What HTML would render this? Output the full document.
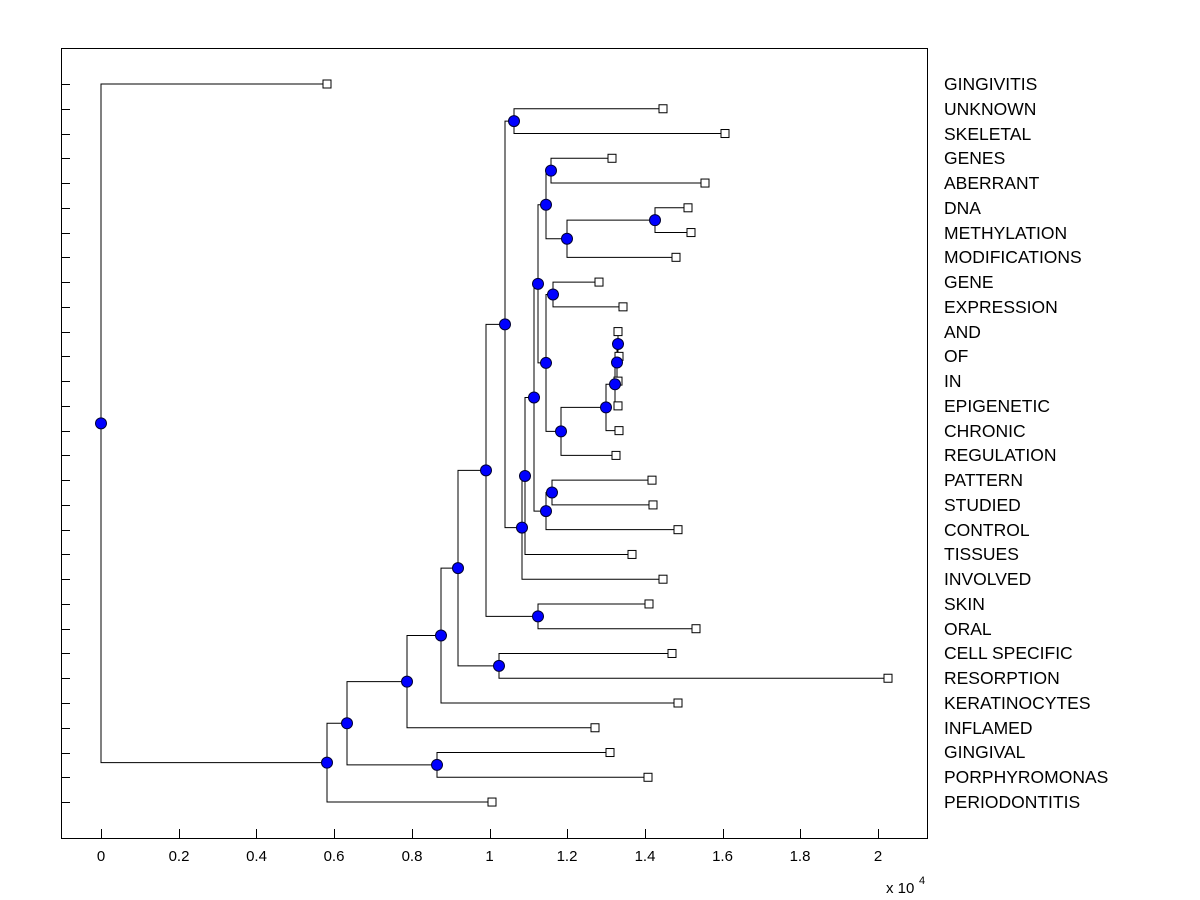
<!DOCTYPE html>
<html><head><meta charset="utf-8"><style>
html,body{margin:0;padding:0;background:#fff;width:1200px;height:900px;overflow:hidden}
svg{display:block}
text{font-family:"Liberation Sans",Arial,sans-serif;fill:#000}
</style></head><body>
<svg id="s" width="1200" height="900" viewBox="0 0 1200 900">
<rect x="61.5" y="48.5" width="866" height="790" fill="#fff" stroke="#000" stroke-width="1"/>
<g id="g" stroke="#000" stroke-width="1" fill="none"></g>
<g id="m"></g>
<g font-size="17.5">
<text x="944" y="90">GINGIVITIS</text>
<text x="944" y="115">UNKNOWN</text>
<text x="944" y="140">SKELETAL</text>
<text x="944" y="164">GENES</text>
<text x="944" y="189">ABERRANT</text>
<text x="944" y="214">DNA</text>
<text x="944" y="239">METHYLATION</text>
<text x="944" y="263">MODIFICATIONS</text>
<text x="944" y="288">GENE</text>
<text x="944" y="313">EXPRESSION</text>
<text x="944" y="338">AND</text>
<text x="944" y="362">OF</text>
<text x="944" y="387">IN</text>
<text x="944" y="412">EPIGENETIC</text>
<text x="944" y="437">CHRONIC</text>
<text x="944" y="461">REGULATION</text>
<text x="944" y="486">PATTERN</text>
<text x="944" y="511">STUDIED</text>
<text x="944" y="536">CONTROL</text>
<text x="944" y="560">TISSUES</text>
<text x="944" y="585">INVOLVED</text>
<text x="944" y="610">SKIN</text>
<text x="944" y="635">ORAL</text>
<text x="944" y="659">CELL SPECIFIC</text>
<text x="944" y="684">RESORPTION</text>
<text x="944" y="709">KERATINOCYTES</text>
<text x="944" y="734">INFLAMED</text>
<text x="944" y="758">GINGIVAL</text>
<text x="944" y="783">PORPHYROMONAS</text>
<text x="944" y="808">PERIODONTITIS</text>
</g>
<g font-size="15" text-anchor="middle">
<text x="101" y="861">0</text>
<text x="179" y="861">0.2</text>
<text x="256.5" y="861">0.4</text>
<text x="334" y="861">0.6</text>
<text x="412" y="861">0.8</text>
<text x="489.5" y="861">1</text>
<text x="567" y="861">1.2</text>
<text x="645" y="861">1.4</text>
<text x="722.5" y="861">1.6</text>
<text x="800" y="861">1.8</text>
<text x="878" y="861">2</text>
</g>
<text x="886" y="893" font-size="15">x 10</text>
<text x="919" y="884" font-size="11">4</text>
</svg>
<script>
var Y=function(i){return 84+i*24.76;};
var leafX=[327,663,725,612,705,688,691,676,599,623,618,619,618,618,619,616,652,653,678,632,663,649,696,672,888,678,595,610,648,492];
var g=document.getElementById('g'),m=document.getElementById('m'),NS='http://www.w3.org/2000/svg';
function el(p,t,a){var e=document.createElementNS(NS,t);for(var k in a)e.setAttribute(k,a[k]);p.appendChild(e);return e;}
var L=[];for(var i=0;i<30;i++)L.push({x:leafX[i],y:Y(i),leaf:1});
function N(x,a,b){return {x:x,y:(a.y+b.y)/2,c:[a,b]};}
var uk=N(514,L[1],L[2]);
var gen=N(551,L[3],L[4]);
var dm=N(655,L[5],L[6]);
var mod=N(567,dm,L[7]);
var na=N(546,gen,mod);
var ge=N(553,L[8],L[9]);
var a1=N(618,L[10],L[11]);
var a2=N(617,a1,L[12]);
var a3=N(615,a2,L[13]);
var a4=N(606,a3,L[14]);
var a5=N(561,a4,L[15]);
var b1=N(546,ge,a5);
var b2=N(538,na,b1);
var ps=N(552,L[16],L[17]);
var pc=N(546,ps,L[18]);
var c1=N(534,b2,pc);
var c2=N(525,c1,L[19]);
var c3=N(522,c2,L[20]);
var c4=N(505,uk,c3);
var so=N(538,L[21],L[22]);
var c5=N(486,c4,so);
var cr=N(499,L[23],L[24]);
var c6=N(458,c5,cr);
var c7=N(441,c6,L[25]);
var c8=N(407,c7,L[26]);
var gp=N(437,L[27],L[28]);
var c9=N(347,c8,gp);
var c10=N(327,c9,L[29]);
var root=N(101,L[0],c10);
var nodes=[];
function draw(n){if(n.leaf)return;nodes.push(n);
 var a=n.c[0],b=n.c[1];
 el(g,'polyline',{points:a.x+','+a.y+' '+n.x+','+a.y+' '+n.x+','+b.y+' '+b.x+','+b.y});
 draw(a);draw(b);}
draw(root);
for(var i=0;i<30;i++){var y=Math.round(Y(i))+0.5;el(g,'line',{x1:61,y1:y,x2:70,y2:y});}
for(var k=0;k<=10;k++){var x=Math.round(101+k*77.7)+0.5;el(g,'line',{x1:x,y1:838,x2:x,y2:829});}
for(var i=0;i<30;i++)el(m,'rect',{x:L[i].x-4,y:L[i].y-4,width:8,height:8,fill:'#fff',stroke:'#000','stroke-width':1});
nodes.forEach(function(n){el(m,'circle',{cx:n.x,cy:n.y,r:5.5,fill:'#0000ff',stroke:'#000033','stroke-width':1});});
</script>
</body></html>
